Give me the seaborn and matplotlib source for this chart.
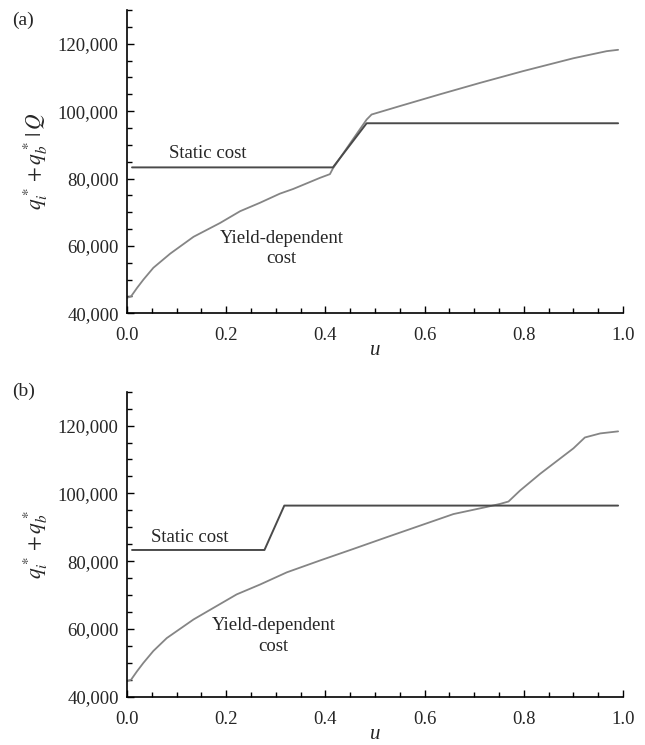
import numpy as np
import pandas as pd
import matplotlib
matplotlib.use("Agg")
import matplotlib.pyplot as plt
import seaborn as sns
from matplotlib.ticker import MultipleLocator, StrMethodFormatter

# yield-dependent cost, panel (a)
u_yield_a = [0.0, 0.008, 0.02, 0.033, 0.053, 0.087, 0.134, 0.1875, 0.228, 0.268, 0.308, 0.335,
             0.389, 0.409, 0.415, 0.45, 0.483, 0.493, 0.55, 0.631, 0.712, 0.799, 0.9, 0.967, 0.99]
cost_yield_a = [44600, 45000, 47500, 50000, 53500, 57700, 62700, 66800, 70300, 72800, 75500, 76900,
                80200, 81300, 83000, 90500, 97500, 99000, 101500, 105000, 108400, 111900, 115700, 117800, 118200]

# yield-dependent cost, panel (b)
u_yield_b = [0.0, 0.008, 0.02, 0.033, 0.053, 0.08, 0.134, 0.181, 0.221, 0.268, 0.322, 0.389, 0.456,
             0.524, 0.591, 0.658, 0.725, 0.752, 0.769, 0.792, 0.833, 0.9, 0.923, 0.954, 0.99]
cost_yield_b = [44600, 45000, 47500, 50000, 53500, 57300, 62800, 66800, 70200, 73100, 76700, 80200, 83600,
                87100, 90500, 93900, 96000, 96900, 97600, 100800, 105800, 113300, 116500, 117700, 118300]

# static cost
u_static_a = [0.01, 0.415, 0.483, 0.99]
cost_static_a = [83300, 83300, 96400, 96400]
u_static_b = [0.01, 0.277, 0.317, 0.99]
cost_static_b = [83300, 83300, 96400, 96400]

sns.set_style("ticks")
plt.rcParams["font.family"] = ["Liberation Serif", "DejaVu Serif"]
plt.rcParams["mathtext.fontset"] = "stix"

fig = plt.figure(figsize=(6.45, 7.45), dpi=100)
ax_a = fig.add_axes([0.197, 0.5795, 0.769, 0.407])
ax_b = fig.add_axes([0.197, 0.0648, 0.769, 0.4094])

panels = [
    (ax_a, u_yield_a, cost_yield_a, u_static_a, cost_static_a, r"$q_i^*+q_b^*\,|\,Q$", "(a)", 0.965,
     (0.163, 87300), (0.311, 59300)),
    (ax_b, u_yield_b, cost_yield_b, u_static_b, cost_static_b, r"$q_i^*+q_b^*$", "(b)", 1.0,
     (0.127, 86900), (0.295, 57900)),
]

for ax, uy, cy, us, cs, ylab, tag, tag_y, static_pos, yield_pos in panels:
    sns.lineplot(x=uy, y=cy, ax=ax, color="#858585", lw=1.3, sort=False, estimator=None)
    sns.lineplot(x=us, y=cs, ax=ax, color="#4a4a4a", lw=1.4, sort=False, estimator=None)
    ax.set_xlim(0, 1.0)
    ax.set_ylim(40000, 130000)
    ax.xaxis.set_major_locator(MultipleLocator(0.2))
    ax.xaxis.set_minor_locator(MultipleLocator(0.05))
    ax.yaxis.set_major_locator(MultipleLocator(20000))
    ax.yaxis.set_minor_locator(MultipleLocator(5000))
    ax.xaxis.set_major_formatter(StrMethodFormatter("{x:.1f}"))
    ax.yaxis.set_major_formatter(StrMethodFormatter("{x:,.0f}"))
    ax.tick_params(which="both", direction="in", labelsize=13.5, width=1.0, color="black")
    ax.tick_params(axis="x", which="both", pad=10)
    ax.tick_params(axis="y", which="both", pad=6)
    ax.tick_params(which="major", length=5)
    ax.tick_params(which="minor", length=3.5)
    sns.despine(ax=ax)
    for s in ["left", "bottom"]:
        ax.spines[s].set_linewidth(1.2)
        ax.spines[s].set_color("black")
    ax.set_xlabel("u", fontsize=15, style="italic", labelpad=-2)
    ax.set_ylabel(ylab, fontsize=15.5, labelpad=6)
    ax.text(static_pos[0], static_pos[1], "Static cost", fontsize=13.5, ha="center", va="center")
    ax.text(yield_pos[0], yield_pos[1], "Yield-dependent\ncost", fontsize=13.5, ha="center", va="center",
            linespacing=1.25)
    ax.text(-0.232, tag_y, tag, transform=ax.transAxes, fontsize=14, ha="left", va="center")

fig.savefig("out.png", dpi=100)
